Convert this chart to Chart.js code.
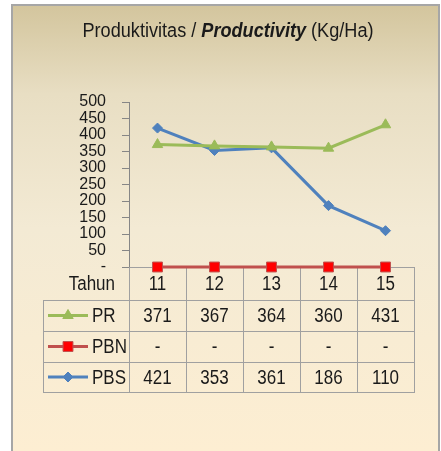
<!DOCTYPE html>
<html>
<head>
<meta charset="utf-8">
<script src="https://cdn.jsdelivr.net/npm/chart.js@4.4.1/dist/chart.umd.min.js"></script>
<style>
  html, body { margin: 0; padding: 0; background: #ffffff; }
  canvas { display: block; }
</style>
</head>
<body>
<canvas id="c" width="441" height="451"></canvas>
<script>
// ---- data ----
const categories = ['11', '12', '13', '14', '15'];
const seriesNames = ['PR', 'PBN', 'PBS'];
const prValues = [371, 367, 364, 360, 431];
const pbnValues = [0, 0, 0, 0, 0];
const pbsValues = [421, 353, 361, 186, 110];
const yTickMax = 500;
const yTickStep = 50;
const axisTitle = 'Tahun';
const titleParts = [
  { text: 'Produktivitas / ', style: '' },
  { text: 'Productivity', style: 'italic bold ' },
  { text: ' (Kg/Ha)', style: '' }
];

const FONT = '"Liberation Sans", Arial, sans-serif';
const GRID = '#a0a0a0';
const TEXT = '#1a1a1a';
const SX = 0.85; // horizontal condensing to mimic a narrow face

const colors = {
  PR: { line: '#9bbb59', fill: '#9bbb59', style: 'triangle', r: 6 },
  PBN: { line: '#c0504d', fill: '#ff0000', style: 'rect', r: 7 },
  PBS: { line: '#4f81bd', fill: '#4f81bd', style: 'rectRot', r: 5 }
};
const seriesValues = [prValues, pbnValues, pbsValues];

function fmt(v) { return v === 0 ? '-' : String(v); }

function narrowText(ctx, text, x, y, align, sx) {
  ctx.save();
  ctx.translate(x, y);
  ctx.scale(sx, 1);
  ctx.textAlign = align;
  ctx.fillText(text, 0, 0);
  ctx.restore();
}

const framePlugin = {
  id: 'frame',
  beforeDraw(chart) {
    const ctx = chart.ctx;
    ctx.save();
    ctx.fillStyle = '#ffffff';
    ctx.fillRect(0, 0, chart.width, chart.height);
    const g = ctx.createLinearGradient(0, 5, 0, 451);
    g.addColorStop(0, '#d3c59d');
    g.addColorStop(0.2, '#e8dec3');
    g.addColorStop(0.5, '#f3ead4');
    g.addColorStop(1, '#fdeed2');
    ctx.fillStyle = g;
    ctx.fillRect(12, 5, 427, 460);
    ctx.strokeStyle = '#a6a6a6';
    ctx.lineWidth = 2;
    ctx.strokeRect(12, 5, 427, 470);
    // title
    let total = 0;
    const parts = titleParts.map(p => {
      ctx.font = p.style + '20px ' + FONT;
      const w = ctx.measureText(p.text).width;
      total += w;
      return { ...p, w };
    });
    const sx = 291 / total;
    let x = 228 - 291 / 2;
    ctx.fillStyle = TEXT;
    ctx.textBaseline = 'alphabetic';
    parts.forEach(p => {
      ctx.font = p.style + '20px ' + FONT;
      narrowText(ctx, p.text, x, 37, 'left', sx);
      x += p.w * sx;
    });
    ctx.restore();
  },
  beforeDatasetsDraw(chart) {
    const ctx = chart.ctx;
    const area = chart.chartArea;
    const xs = chart.scales.x;
    const n = categories.length;
    const colW = (area.right - area.left) / n;
    const top = area.bottom;
    const rowH = [33, 31, 31, 30];
    const rows = [top];
    rowH.forEach(h => rows.push(rows[rows.length - 1] + h));
    const tableLeft = 43;
    ctx.save();
    ctx.strokeStyle = GRID;
    ctx.lineWidth = 1;
    ctx.beginPath();
    ctx.moveTo(area.left, top + 0.5);
    ctx.lineTo(area.right + 0.5, top + 0.5);
    for (let i = 0; i <= n; i++) {
      const vx = Math.round(area.left + i * colW) + 0.5;
      ctx.moveTo(vx, top);
      ctx.lineTo(vx, rows[4] + 0.5);
    }
    for (let r = 1; r <= 4; r++) {
      ctx.moveTo(tableLeft, rows[r] + 0.5);
      ctx.lineTo(area.right + 1, rows[r] + 0.5);
    }
    ctx.moveTo(tableLeft + 0.5, rows[1]);
    ctx.lineTo(tableLeft + 0.5, rows[4] + 0.5);
    ctx.stroke();

    ctx.fillStyle = TEXT;
    ctx.font = '20px ' + FONT;
    ctx.textBaseline = 'middle';
    narrowText(ctx, axisTitle, 115, (rows[0] + rows[1]) / 2 + 1, 'right', SX);
    categories.forEach((c, i) => {
      narrowText(ctx, c, xs.getPixelForValue(i), (rows[0] + rows[1]) / 2 + 1, 'center', SX);
    });
    seriesNames.forEach((name, s) => {
      const cy = (rows[s + 1] + rows[s + 2]) / 2 + 1;
      seriesValues[s].forEach((v, i) => {
        narrowText(ctx, fmt(v), xs.getPixelForValue(i), cy, 'center', SX);
      });
      narrowText(ctx, name, 92, cy, 'left', SX);
      const k = colors[name];
      const ky = cy - 1;
      ctx.save();
      ctx.strokeStyle = k.line;
      ctx.lineWidth = 3;
      ctx.beginPath();
      ctx.moveTo(48, ky);
      ctx.lineTo(88, ky);
      ctx.stroke();
      ctx.fillStyle = k.fill;
      ctx.strokeStyle = name === 'PBN' ? '#c0504d' : k.fill;
      ctx.lineWidth = 1;
      Chart.helpers.drawPoint(ctx, { pointStyle: k.style, radius: k.r, rotation: 0, borderWidth: 1 }, 68, ky);
      ctx.restore();
    });
    ctx.restore();
  }
};

function ds(label, data) {
  const k = colors[label];
  return {
    label, data,
    borderColor: k.line,
    backgroundColor: k.fill,
    borderWidth: 3,
    pointStyle: k.style,
    pointRadius: k.r,
    pointBackgroundColor: k.fill,
    pointBorderColor: label === 'PBN' ? '#c0504d' : k.fill,
    pointBorderWidth: 1,
    tension: 0,
    clip: false
  };
}

new Chart(document.getElementById('c'), {
  type: 'line',
  data: {
    labels: categories,
    datasets: [ds('PR', prValues), ds('PBN', pbnValues), ds('PBS', pbsValues)]
  },
  options: {
    responsive: false,
    animation: false,
    devicePixelRatio: 1,
    layout: { padding: { top: 102, bottom: 184, left: 0, right: 27 } },
    plugins: { legend: { display: false }, title: { display: false }, tooltip: { enabled: false } },
    scales: {
      x: { display: false, offset: true },
      y: {
        min: 0, max: yTickMax,
        afterFit(scale) { scale.width = 129; },
        ticks: {
          stepSize: yTickStep,
          autoSkip: false,
          padding: 16,
          color: TEXT,
          font: { family: FONT, size: 16 },
          callback: v => v === 0 ? '-' : String(v)
        },
        grid: { drawOnChartArea: false, drawTicks: true, tickLength: 7, color: '#868686' },
        border: { display: true, color: '#868686', width: 1 }
      }
    }
  },
  plugins: [framePlugin]
});
</script>
</body>
</html>
